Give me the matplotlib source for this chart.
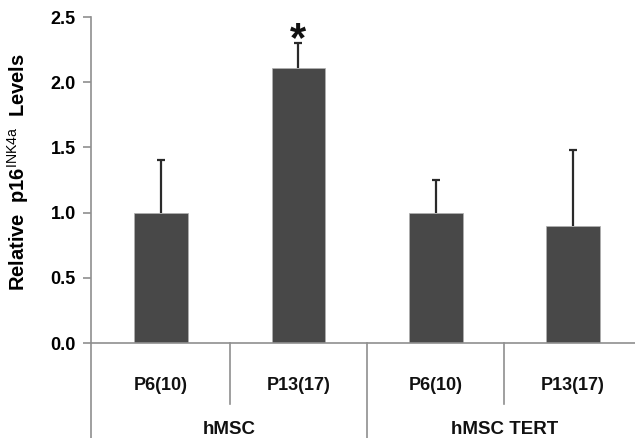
import matplotlib
matplotlib.use("Agg")
import matplotlib.pyplot as plt
from matplotlib.lines import Line2D
import numpy as np

plt.rcParams['font.family'] = ['Liberation Sans', 'DejaVu Sans']
plt.rcParams['mathtext.fontset'] = 'custom'
plt.rcParams['mathtext.rm'] = 'Liberation Sans'
plt.rcParams['mathtext.bf'] = 'Liberation Sans:bold'

categories = ["P6(10)", "P13(17)", "P6(10)", "P13(17)"]
groups = ["hMSC", "hMSC TERT"]
values = [1.0, 2.11, 1.0, 0.9]
errors_up = [0.40, 0.19, 0.25, 0.58]
yticks = [0.0, 0.5, 1.0, 1.5, 2.0, 2.5]

bar_color = "#484848"
axis_color = "#8f8f8f"

fig = plt.figure(figsize=(6.35, 4.38), dpi=100)
ax = fig.add_axes([91/635, 95/438, (635-91)/635, 326/438])

x = list(range(len(values)))
ax.bar(x, values, width=0.39, color=bar_color, edgecolor="#b0b0b0", linewidth=0.5, zorder=2)
eb = ax.errorbar(x, values, yerr=[[0]*len(values), errors_up], fmt='none',
                 ecolor="#2a2a2a", elinewidth=1.6, capsize=3, capthick=1.6, zorder=1)
# hide the lower caps (only upper error shown)
for cl in eb[1]:
    yd = np.asarray(cl.get_ydata(), dtype=float)
    if np.allclose(yd, values):
        cl.set_visible(False)

ax.text(1, 2.32, "*", ha='center', va='center',
        fontsize=30, fontweight='bold', color='#111111')

ax.set_xlim(-0.51, 3.45)
ax.set_ylim(0, 2.5)
ax.set_yticks(yticks)
ax.set_yticklabels([f"{t:.1f}" for t in yticks], fontsize=13, fontweight='bold')
ax.tick_params(axis='y', direction='out', length=6, width=1.2, color=axis_color, pad=5)
ax.tick_params(axis='x', length=0, labelbottom=False)

for s in ['top', 'right']:
    ax.spines[s].set_visible(False)
for s in ['left', 'bottom']:
    ax.spines[s].set_color(axis_color)
    ax.spines[s].set_linewidth(1.2)

trans = ax.get_xaxis_transform()
# category labels
for xi, lab in zip(x, categories):
    ax.text(xi, -42/326, lab, transform=trans, ha='center', va='center',
            fontsize=13, fontweight='bold', color='#111111')
# group labels
for gi, g in enumerate(groups):
    ax.text(gi*2 + 0.5, -87/326, g, transform=trans, ha='center', va='center',
            fontsize=13.5, fontweight='bold', color='#111111')

# separators
for xs, depth in [(0.5, 61/326), (2.5, 61/326), (1.5, 95/326), (-0.51, 95/326)]:
    ax.add_line(Line2D([xs, xs], [0, -depth], transform=trans, color=axis_color,
                       linewidth=1.2, clip_on=False))

ax.set_ylabel(r"Relative  p16$^{\mathrm{INK4a}}$  Levels", fontsize=14.5,
              fontweight='bold')
ax.yaxis.set_label_coords(-60/544, (343-172)/326)

fig.savefig("out.png", dpi=100)
